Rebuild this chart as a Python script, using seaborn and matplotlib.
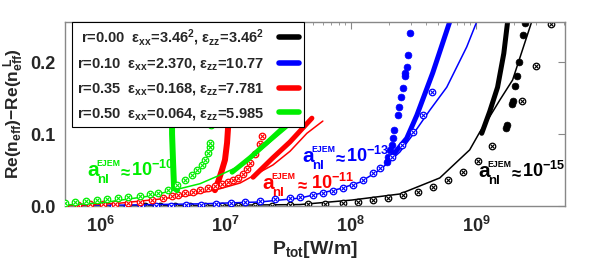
import numpy as np
import pandas as pd
import matplotlib
matplotlib.use("Agg")
import matplotlib.pyplot as plt
from matplotlib.lines import Line2D
from matplotlib.ticker import FixedLocator, FixedFormatter, LogLocator, NullFormatter
import seaborn as sns

sns.set_style("white")
plt.rcParams['font.family'] = ['Liberation Sans', 'DejaVu Sans']
plt.rcParams['mathtext.fontset'] = 'custom'
plt.rcParams['mathtext.rm'] = 'Liberation Sans:bold'
plt.rcParams['mathtext.it'] = 'Liberation Sans:bold'
plt.rcParams['mathtext.bf'] = 'Liberation Sans:bold'
plt.rcParams['mathtext.sf'] = 'Liberation Sans:bold'

# ---------------- data (P_tot in W/m, value = Re(n_eff)-Re(n_eff^L)) ----------------
# r = 0.00 (black)
blk_thin_P = [5.26e5, 6.27e6, 3.93e7, 1.02e8, 2.46e8, 5.12e8, 8.87e8, 1.07e9, 1.28e9, 1.54e9, 1.95e9, 2.77e9]
blk_thin_v = [0.0, 0.0007, 0.002, 0.0083, 0.0167, 0.039, 0.078, 0.103, 0.124, 0.147, 0.175, 0.256]
blk_thick_P = [1.107e9, 1.28e9, 1.48e9, 1.66e9, 1.78e9]
blk_thick_v = [0.101, 0.131, 0.165, 0.212, 0.256]
blk_dot_P = [1.72e9, 1.75e9, 1.92e9, 1.95e9, 2.03e9, 2.10e9, 2.18e9, 2.35e9, 2.43e9]
blk_dot_v = [0.108, 0.1125, 0.142, 0.146, 0.167, 0.181, 0.200, 0.2375, 0.254]
blk_open_P = [2.29e6, 3.01e6, 3.96e6, 5.21e6, 6.87e6, 9.38e6, 1.26e7, 1.72e7, 2.35e7, 3.27e7, 4.54e7,
              6.21e7, 8.63e7, 1.14e8, 1.50e8, 1.97e8, 2.60e8, 3.42e8, 4.50e8, 5.93e8, 7.80e8, 1.03e9,
              1.33e9, 2.31e9, 2.98e9, 3.93e9]
blk_open_v = [0.0007, 0.0007, 0.0007, 0.0007, 0.0007, 0.0007, 0.0007, 0.0007, 0.0007, 0.001, 0.003,
              0.003, 0.004, 0.006, 0.008, 0.011, 0.015, 0.019, 0.026, 0.036, 0.047, 0.063,
              0.083, 0.146, 0.194, 0.253]

# r = 0.10 (blue)
blu_thin_P = [5.26e5, 6.27e6, 1.88e7, 3.93e7, 8.17e7, 1.18e8, 1.70e8, 2.46e8, 3.12e8, 4.26e8, 5.82e8, 8.40e8, 1.01e9]
blu_thin_v = [0.0, 0.003, 0.0056, 0.011, 0.024, 0.033, 0.050, 0.075, 0.099, 0.133, 0.165, 0.221, 0.256]
blu_thick_P = [1.94e8, 2.24e8, 2.79e8, 3.36e8, 4.50e8, 6.15e8]
blu_thick_v = [0.060, 0.074, 0.094, 0.126, 0.185, 0.256]
blu_dot_P = [1.94e8, 1.97e8, 2.05e8, 2.12e8, 2.16e8, 2.20e8, 2.37e8, 2.42e8, 2.50e8, 2.60e8, 2.69e8, 2.69e8,
             2.79e8, 2.85e8, 2.95e8]
blu_dot_v = [0.061, 0.068, 0.078, 0.085, 0.094, 0.106, 0.126, 0.138, 0.151, 0.164, 0.181, 0.185,
             0.193, 0.210, 0.240]
blu_open_P = [1.27e6, 1.64e6, 2.12e6, 2.79e6, 3.68e6, 4.84e6, 6.38e6, 8.40e6, 1.11e7, 1.43e7, 1.88e7,
              2.48e7, 3.27e7, 3.93e7, 4.98e7, 5.98e7, 7.19e7, 8.63e7, 1.04e8, 1.25e8, 1.50e8, 1.70e8,
              2.12e8, 2.55e8, 3.12e8, 3.75e8, 4.42e8]
blu_open_v = [0.0, 0.0, 0.0, 0.0, 0.0007, 0.0014, 0.0014, 0.003, 0.004, 0.006, 0.007,
              0.010, 0.011, 0.0125, 0.015, 0.018, 0.021, 0.025, 0.029, 0.036, 0.046, 0.053,
              0.068, 0.085, 0.103, 0.126, 0.158]

# r = 0.35 (red)
red_thin_P = [5.26e5, 1.44e6, 3.01e6, 5.21e6, 9.04e6, 1.31e7, 2.39e7, 3.27e7, 4.46e7, 5.98e7]
red_thin_v = [0.0, 0.004, 0.0097, 0.015, 0.024, 0.032, 0.057, 0.076, 0.101, 0.118]
red_thick_P = [1.66e7, 2.39e7, 3.27e7, 4.89e7]
red_thick_v = [0.040, 0.067, 0.089, 0.122]
red_dot_P = [8.24e6, 8.71e6, 9.38e6, 9.91e6, 1.03e7, 1.05e7]
red_dot_v = [0.022, 0.033, 0.050, 0.064, 0.088, 0.110]
red_open_P = [5.26e5, 6.68e5, 8.32e5, 1.06e6, 1.32e6, 1.67e6, 2.08e6, 2.60e6, 3.18e6, 3.75e6, 4.19e6,
              4.76e6, 5.51e6, 6.27e6, 7.26e6, 8.24e6, 9.38e6, 1.05e7, 1.15e7, 1.26e7, 1.38e7, 1.48e7,
              1.57e7, 1.72e7, 1.88e7, 1.95e7]
red_open_v = [0.0014, 0.0014, 0.0028, 0.0028, 0.0028, 0.0042, 0.0056, 0.0083, 0.011, 0.0139, 0.0153,
              0.018, 0.0194, 0.022, 0.025, 0.0278, 0.031, 0.033, 0.036, 0.039, 0.044, 0.051,
              0.060, 0.072, 0.086, 0.097]

# r = 0.50 (green)
grn_thin_P = [5.26e5, 1.0e6, 2.50e6, 6.27e6, 9.04e6, 1.31e7, 2.14e7, 2.98e7, 4.15e7]
grn_thin_v = [0.0014, 0.0042, 0.0139, 0.031, 0.043, 0.056, 0.085, 0.106, 0.128]
grn_thick_P = [1.13e7, 1.57e7, 2.14e7, 2.77e7, 3.58e7]
grn_thick_v = [0.047, 0.067, 0.088, 0.106, 0.124]
grn_dot_P = [4.11e6, 3.89e6, 3.82e6, 3.75e6, 3.75e6]
grn_dot_v = [0.022, 0.026, 0.061, 0.100, 0.110]
grn_open_P = [5.26e5, 6.32e5, 7.73e5, 9.46e5, 1.14e6, 1.39e6, 1.67e6, 2.08e6, 2.50e6, 2.90e6, 3.48e6,
              4.11e6, 4.76e6, 5.41e6, 5.93e6, 6.50e6, 6.87e6, 7.26e6, 7.52e6, 7.52e6, 7.66e6]
grn_open_v = [0.0042, 0.0056, 0.0069, 0.0083, 0.0097, 0.011, 0.0125, 0.0139, 0.0167, 0.018, 0.022,
              0.029, 0.036, 0.043, 0.050, 0.057, 0.064, 0.074, 0.082, 0.088, 0.1125]

legend_labels = [
    r'r=0.00  $\varepsilon_{xx}$=3.46$^{2}$, $\varepsilon_{zz}$=3.46$^{2}$',
    r'r=0.10  $\varepsilon_{xx}$=2.370, $\varepsilon_{zz}$=10.77',
    r'r=0.35  $\varepsilon_{xx}$=0.168, $\varepsilon_{zz}$=7.781',
    r'r=0.50  $\varepsilon_{xx}$=0.064, $\varepsilon_{zz}$=5.985',
]
annot_exponents = ['-10', '-11', '-13', '-15']
x_tick_vals = [1e6, 1e7, 1e8, 1e9]
x_tick_labels = [r'$10^{6}$', r'$10^{7}$', r'$10^{8}$', r'$10^{9}$']
y_tick_vals = [0.0, 0.1, 0.2]
y_tick_labels = ['0.0', '0.1', '0.2']

BLACK, BLUE, RED, GREEN = '#000000', '#0000ff', '#ff0000', '#00ee00'

fig = plt.figure(figsize=(5.98, 2.79), dpi=100)
ax = fig.add_axes([0.1087, 0.2616, 0.836, 0.6595])


def line(P, v, color, lw, z):
    sns.lineplot(x=P, y=v, ax=ax, color=color, linewidth=lw, sort=False, estimator=None,
                 zorder=z, legend=False, solid_capstyle='round')


def opens(P, v, color, z):
    sns.scatterplot(x=P, y=v, ax=ax, marker='o', s=22, facecolor='white', edgecolor=color,
                    linewidth=0.9, zorder=z, legend=False)
    sns.scatterplot(x=P, y=v, ax=ax, marker='x', s=7, color=color, linewidth=0.8,
                    zorder=z + 0.1, legend=False)


def dots(P, v, color, z):
    sns.scatterplot(x=P, y=v, ax=ax, marker='o', s=24, color=color, edgecolor=color,
                    linewidth=0.5, zorder=z, legend=False)


series = [
    (blk_thin_P, blk_thin_v, blk_thick_P, blk_thick_v, blk_dot_P, blk_dot_v, blk_open_P, blk_open_v, BLACK),
    (blu_thin_P, blu_thin_v, blu_thick_P, blu_thick_v, blu_dot_P, blu_dot_v, blu_open_P, blu_open_v, BLUE),
    (red_thin_P, red_thin_v, red_thick_P, red_thick_v, red_dot_P, red_dot_v, red_open_P, red_open_v, RED),
    (grn_thin_P, grn_thin_v, grn_thick_P, grn_thick_v, grn_dot_P, grn_dot_v, grn_open_P, grn_open_v, GREEN),
]

for i, (tP, tv, kP, kv, dP, dv, oP, ov, c) in enumerate(series):
    z = 2 + i * 0.5
    line(tP, tv, c, 1.1, z)
    line(kP, kv, c, 3.6, z)
    if c in (RED, GREEN):
        line(dP, dv, c, 4.3, z)
    else:
        dots(dP, dv, c, z)
    opens(oP, ov, c, z + 0.2)

ax.set_xscale('log')
ax.set_xlim(5.25e5, 5.1e9)
ax.set_ylim(0.0, 0.2556)

ax.xaxis.set_major_locator(FixedLocator(x_tick_vals))
ax.xaxis.set_major_formatter(FixedFormatter(x_tick_labels))
ax.xaxis.set_minor_locator(LogLocator(base=10, subs=np.arange(2, 10), numticks=20))
ax.xaxis.set_minor_formatter(NullFormatter())
ax.set_yticks(y_tick_vals)
ax.set_yticklabels(y_tick_labels, fontweight='bold')

ax.tick_params(axis='both', which='both', direction='in', top=True, right=True,
               labelsize=13, color='#888888')
ax.tick_params(axis='x', which='major', length=5, pad=7)
ax.tick_params(axis='x', which='minor', length=2.5)
ax.tick_params(axis='y', which='major', length=5, pad=7)
for sp in ax.spines.values():
    sp.set_color('#888888')
    sp.set_linewidth(1.0)

ax.set_xlabel(r'$P_{tot}$[W/m]', fontsize=14, fontweight='bold', labelpad=2)
ax.set_ylabel(r'Re($n_{eff}$)$-$Re($n_{eff}^{\ L}$)', fontsize=12.5, fontweight='bold', labelpad=3)


# annotations: a_nl^EJEM ~ 10^-N  (composed of pieces so that the scripts are small)
def annot(xf, yf, expo, color, gap=22.5, ten=32):
    kw = dict(xycoords='axes fraction', textcoords='offset points', color=color,
              ha='left', va='baseline', fontweight='bold', zorder=6, annotation_clip=False)
    ax.annotate('a', xy=(xf, yf), xytext=(0, 0), fontsize=15, **kw)
    ax.annotate('EJEM', xy=(xf, yf), xytext=(7.0, 7), fontsize=6.3, **kw)
    ax.annotate('nl', xy=(xf, yf), xytext=(7.0, -5), fontsize=9.5, **kw)
    ax.annotate(r'$\approx$', xy=(xf, yf), xytext=(gap, 0.0), fontsize=12, **kw)
    ax.annotate(r'$10^{%s}$' % expo, xy=(xf, yf), xytext=(ten, 0), fontsize=13, **kw)


annot(0.044, 0.163, annot_exponents[0], GREEN)
annot(0.394, 0.092, annot_exponents[1], RED, gap=23.5, ten=35)
annot(0.474, 0.239, annot_exponents[2], BLUE)
annot(0.826, 0.158, annot_exponents[3], BLACK)

handles = [Line2D([], [], color=c, lw=4) for c in (BLACK, BLUE, RED, GREEN)]
leg = ax.legend(handles, legend_labels, loc='upper left', bbox_to_anchor=(0.014, 1.0),
                borderaxespad=0, markerfirst=False, fancybox=False, framealpha=1,
                edgecolor='black', prop={'weight': 'bold', 'size': 10.5}, handlelength=1.4,
                labelspacing=0.6, handletextpad=1.0, borderpad=0.35)
leg.get_frame().set_linewidth(0.8)
leg.set_zorder(10)

fig.savefig('out.png', dpi=100)
